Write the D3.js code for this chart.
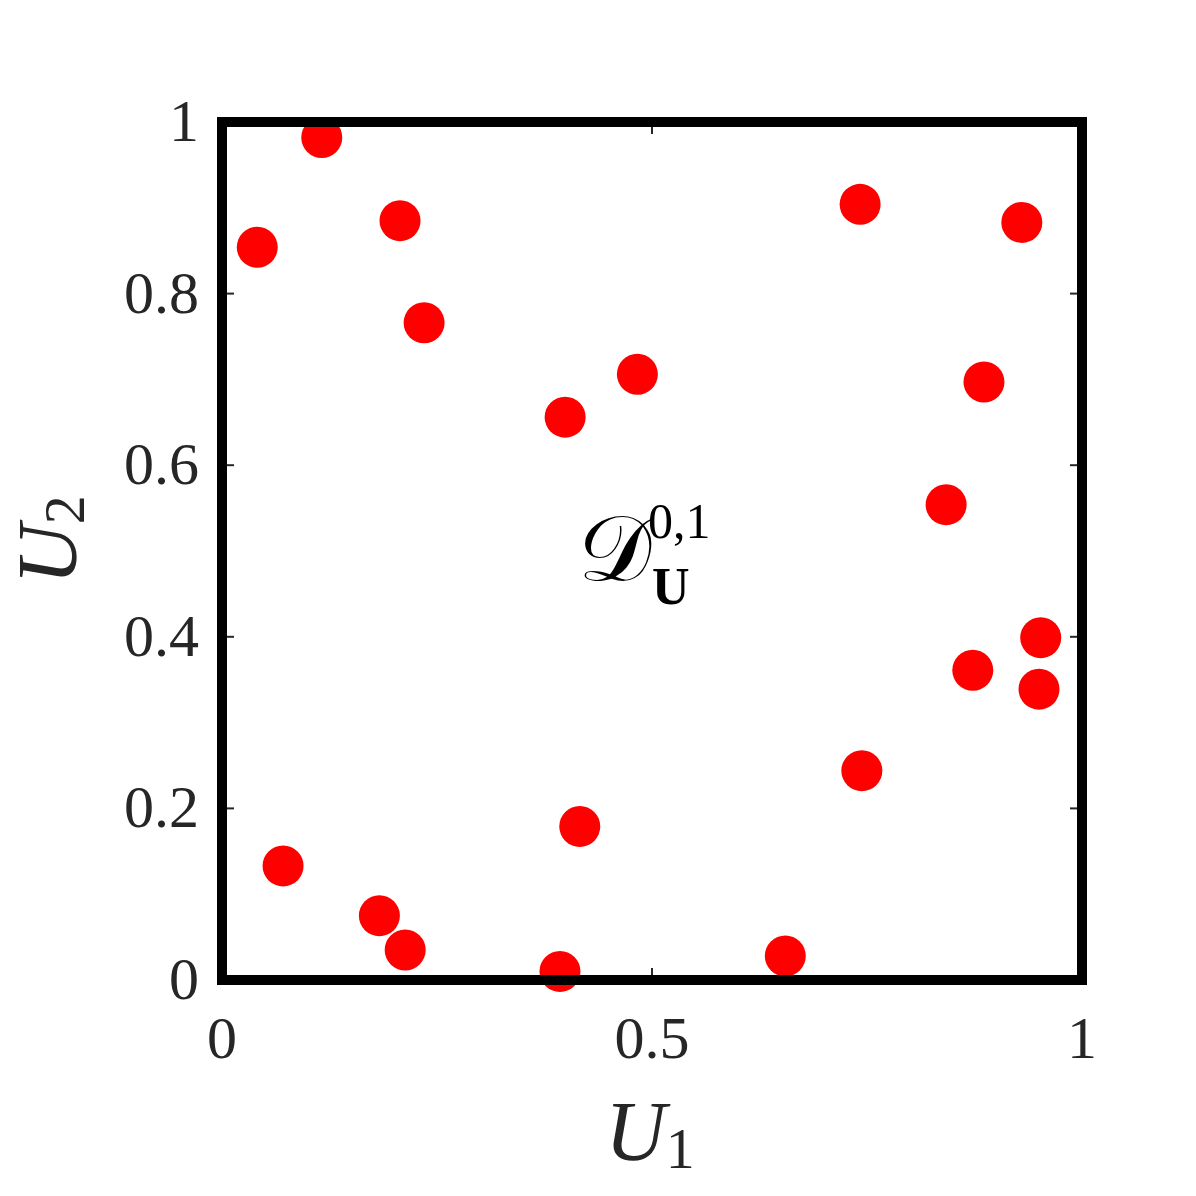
<!DOCTYPE html>
<html>
<head>
<meta charset="utf-8">
<script src="https://cdn.jsdelivr.net/npm/d3@7"></script>
<style>
  body { margin: 0; background: #fff; }
  text { font-family: "Liberation Serif", "DejaVu Serif", serif; fill: #262626; }
</style>
</head>
<body>
<div id="plot"></div>
<script>
// sample points in the unit square
var u1 = [0.041, 0.116, 0.207, 0.235, 0.399, 0.483, 0.742, 0.930, 0.886, 0.842,
          0.952, 0.873, 0.950, 0.744, 0.416, 0.071, 0.183, 0.213, 0.393, 0.655];
var u2 = [0.854, 0.982, 0.885, 0.766, 0.656, 0.706, 0.904, 0.883, 0.697, 0.554,
          0.399, 0.361, 0.339, 0.244, 0.179, 0.133, 0.075, 0.035, 0.010, 0.028];
var xTicks = [0, 0.5, 1];
var xTickLabels = ["0", "0.5", "1"];
var yTicks = [0, 0.2, 0.4, 0.6, 0.8, 1];
var yTickLabels = ["0", "0.2", "0.4", "0.6", "0.8", "1"];

var W = 1196, H = 1196;
var mLeft = 222, mRight = 1082, mTop = 122, mBottom = 980;

var svg = d3.select("#plot").append("svg")
    .attr("width", W)
    .attr("height", H);

var x = d3.scaleLinear([0, 1], [mLeft, mRight]);
var y = d3.scaleLinear([0, 1], [mBottom, mTop]);

// tick marks (inward, on all four sides)
var tickLen = 7;
var ticks = svg.append("g").attr("stroke", "#262626").attr("stroke-width", 2);
xTicks.forEach(function(t) {
    ticks.append("line").attr("x1", x(t)).attr("x2", x(t))
        .attr("y1", mBottom).attr("y2", mBottom - tickLen - 5);
    ticks.append("line").attr("x1", x(t)).attr("x2", x(t))
        .attr("y1", mTop).attr("y2", mTop + tickLen + 5);
});
yTicks.forEach(function(t) {
    ticks.append("line").attr("y1", y(t)).attr("y2", y(t))
        .attr("x1", mLeft - 5).attr("x2", mLeft + tickLen + 5);
    ticks.append("line").attr("y1", y(t)).attr("y2", y(t))
        .attr("x1", mRight + 5).attr("x2", mRight - tickLen - 5);
});

// points
svg.append("g").selectAll("circle")
    .data(u1.map(function(d, i) { return {x: d, y: u2[i]}; }))
    .join("circle")
    .attr("cx", function(d) { return x(d.x); })
    .attr("cy", function(d) { return y(d.y); })
    .attr("r", 20.5)
    .attr("fill", "#ff0000");

// box
svg.append("rect")
    .attr("x", mLeft).attr("y", mTop)
    .attr("width", mRight - mLeft).attr("height", mBottom - mTop)
    .attr("fill", "none")
    .attr("stroke", "#000")
    .attr("stroke-width", 10);

// tick labels
svg.append("g").selectAll("text")
    .data(xTicks)
    .join("text")
    .attr("x", function(d) { return x(d); })
    .attr("y", 1058)
    .attr("text-anchor", "middle")
    .attr("font-size", 60)
    .text(function(d, i) { return xTickLabels[i]; });

svg.append("g").selectAll("text")
    .data(yTicks)
    .join("text")
    .attr("x", 199)
    .attr("y", function(d) { return y(d) + 19; })
    .attr("text-anchor", "end")
    .attr("font-size", 60)
    .text(function(d, i) { return yTickLabels[i]; });

// axis labels
var xl = svg.append("text")
    .attr("x", 650)
    .attr("y", 1160)
    .attr("text-anchor", "middle")
    .attr("font-size", 84);
xl.append("tspan").attr("font-style", "italic").text("U");
xl.append("tspan").attr("font-size", 58).attr("dy", 8).text("1");

var yl = svg.append("text")
    .attr("transform", "translate(76,540) rotate(-90)")
    .attr("text-anchor", "middle")
    .attr("font-size", 84);
yl.append("tspan").attr("font-style", "italic").text("U");
yl.append("tspan").attr("font-size", 58).attr("dy", 8).text("2");

// annotation D_U^{0,1}
var ann = svg.append("g");
ann.append("text")
    .attr("x", 578).attr("y", 580)
    .attr("font-size", 92)
    .style("fill", "#000")
    .text("\uD835\uDC9F");
ann.append("text")
    .attr("x", 648).attr("y", 538)
    .attr("font-size", 50)
    .style("fill", "#000")
    .text("0,1");
ann.append("text")
    .attr("x", 652).attr("y", 604)
    .attr("font-size", 52)
    .attr("font-weight", "bold")
    .style("fill", "#000")
    .text("U");
</script>
</body>
</html>
